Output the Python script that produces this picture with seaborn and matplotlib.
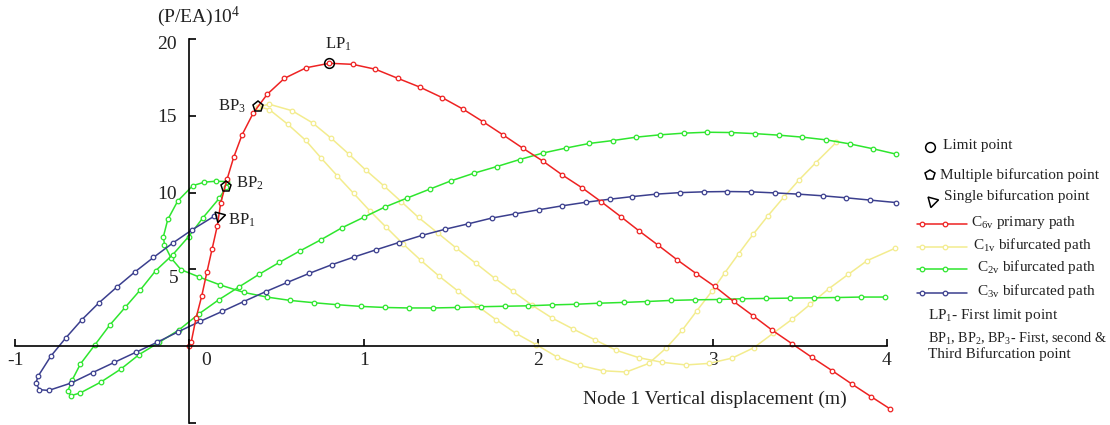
import numpy as np
import pandas as pd
import matplotlib
matplotlib.use("Agg")
import matplotlib.pyplot as plt
import seaborn as sns
from matplotlib.transforms import ScaledTranslation

# ---------------- data ----------------
red_x = [0.0, 0.01, 0.038, 0.071, 0.10, 0.13, 0.16, 0.18, 0.216, 0.254, 0.302, 0.367,
         0.446, 0.545, 0.67, 0.803, 0.937, 1.067, 1.195, 1.323, 1.45, 1.568, 1.683,
         1.798, 1.912, 2.027, 2.138, 2.253, 2.362, 2.473, 2.578, 2.687, 2.796, 2.907,
         3.012, 3.12, 3.232, 3.343, 3.458, 3.57, 3.685, 3.798, 3.911, 4.016]
red_y = [0.0, 0.25, 1.83, 3.28, 4.8, 6.32, 7.84, 9.35, 10.87, 12.3, 13.76, 15.2,
         16.4, 17.44, 18.13, 18.42, 18.35, 18.03, 17.44, 16.86, 16.18, 15.44, 14.62,
         13.76, 12.89, 12.05, 11.15, 10.3, 9.4, 8.44, 7.51, 6.58, 5.63, 4.72,
         3.89, 2.92, 1.98, 1.03, 0.14, -0.73, -1.59, -2.46, -3.3, -4.07]

yel_a_x = [0.396, 0.459, 0.589, 0.706, 0.813, 0.914, 1.01, 1.115, 1.214, 1.314, 1.425,
           1.53, 1.641, 1.75, 1.855, 1.966, 2.08, 2.2, 2.328, 2.448, 2.578, 2.712,
           2.846, 2.98, 3.113, 3.236, 3.347, 3.458, 3.561, 3.666, 3.777, 3.886, 4.045]
yel_a_y = [15.6, 15.75, 15.33, 14.54, 13.54, 12.51, 11.48, 10.44, 9.42, 8.38, 7.36,
           6.39, 5.41, 4.43, 3.57, 2.66, 1.83, 1.12, 0.4, -0.27, -0.75, -1.05,
           -1.22, -1.12, -0.77, -0.1, 0.84, 1.77, 2.74, 3.74, 4.67, 5.57, 6.37]

yel_b_x = [0.396, 0.459, 0.564, 0.666, 0.756, 0.848, 0.941, 1.033, 1.128, 1.224, 1.328,
           1.434, 1.539, 1.65, 1.759, 1.872, 1.989, 2.105, 2.238, 2.371, 2.505, 2.634,
           2.734, 2.825, 2.91, 2.996, 3.07, 3.15, 3.232, 3.318, 3.408, 3.496, 3.592, 3.71]
yel_b_y = [15.6, 15.4, 14.45, 13.41, 12.24, 11.09, 9.96, 8.83, 7.75, 6.67, 5.58,
           4.54, 3.6, 2.63, 1.72, 0.84, 0.1, -0.68, -1.25, -1.6, -1.68, -1.12,
           -0.12, 1.03, 2.31, 3.58, 4.78, 6.03, 7.28, 8.5, 9.7, 10.83, 11.95, 13.28]

grn_a_x = [0.215, 0.15, 0.086, 0.019, -0.067, -0.124, -0.149, -0.143, -0.105, -0.048,
           0.057, 0.178, 0.313, 0.444, 0.578, 0.714, 0.849, 0.984, 1.123, 1.258, 1.396,
           1.534, 1.67, 1.807, 1.943, 2.08, 2.215, 2.35, 2.49, 2.626, 2.761, 2.897,
           3.035, 3.171, 3.308, 3.442, 3.58, 3.716, 3.851, 3.987]
grn_a_y = [10.72, 10.74, 10.68, 10.45, 9.45, 8.25, 7.14, 6.6, 5.74, 4.98,
           4.5, 3.98, 3.5, 3.2, 2.98, 2.83, 2.7, 2.59, 2.52, 2.49, 2.49,
           2.52, 2.57, 2.6, 2.63, 2.69, 2.73, 2.8, 2.85, 2.91, 2.98, 3.02,
           3.04, 3.09, 3.11, 3.13, 3.15, 3.17, 3.2, 3.2]

grn_b_x = [0.21, 0.172, 0.076, -0.004, -0.096, -0.193, -0.281, -0.369, -0.457, -0.541,
           -0.625, -0.672, -0.698, -0.679, -0.625, -0.507, -0.392, -0.289, -0.172,
           -0.059, 0.053, 0.168, 0.283, 0.398, 0.516, 0.635, 0.754, 0.873, 0.999,
           1.119, 1.247, 1.377, 1.501, 1.631, 1.761, 1.893, 2.025, 2.159, 2.293,
           2.429, 2.562, 2.697, 2.834, 2.968, 3.108, 3.242, 3.379, 3.515, 3.653,
           3.787, 3.921, 4.054]
grn_b_y = [10.35, 9.64, 8.34, 7.14, 5.95, 4.92, 3.67, 2.52, 1.37, 0.1,
           -1.16, -2.2, -2.94, -3.22, -3.04, -2.33, -1.48, -0.55, 0.26,
           1.07, 2.09, 3.02, 3.85, 4.67, 5.46, 6.21, 6.93, 7.7, 8.39,
           9.05, 9.64, 10.22, 10.77, 11.26, 11.69, 12.15, 12.57, 12.9, 13.2,
           13.39, 13.61, 13.76, 13.87, 13.93, 13.91, 13.84, 13.74, 13.61, 13.43,
           13.17, 12.85, 12.5]

blue_x = [0.143, 0.013, -0.096, -0.206, -0.312, -0.417, -0.52, -0.617, -0.708, -0.794,
          -0.868, -0.88, -0.86, -0.807, -0.679, -0.555, -0.432, -0.308, -0.186,
          -0.064, 0.06, 0.187, 0.312, 0.437, 0.561, 0.687, 0.815, 0.942, 1.071,
          1.201, 1.332, 1.468, 1.6, 1.733, 1.869, 2.002, 2.138, 2.272, 2.41, 2.54,
          2.677, 2.815, 2.949, 3.085, 3.22, 3.358, 3.492, 3.633, 3.767, 3.905, 4.054]
blue_y = [8.47, 7.56, 6.71, 5.78, 4.84, 3.84, 2.81, 1.72, 0.55, -0.64,
          -1.96, -2.4, -2.83, -2.88, -2.4, -1.72, -1.06, -0.4, 0.25,
          0.94, 1.61, 2.26, 2.91, 3.55, 4.15, 4.74, 5.3, 5.8, 6.28,
          6.75, 7.21, 7.62, 7.97, 8.34, 8.62, 8.88, 9.14, 9.37, 9.57, 9.74,
          9.9, 10.0, 10.05, 10.07, 10.05, 9.98, 9.9, 9.79, 9.66, 9.51, 9.35]

special_names = ["LP$_\\mathrm{1}$", "BP$_\\mathrm{3}$", "BP$_\\mathrm{2}$", "BP$_\\mathrm{1}$"]
special_x = [0.803, 0.396, 0.21, 0.17]
special_y = [18.42, 15.6, 10.35, 8.5]

x_ticks = [-1, 0, 1, 2, 3, 4]
x_tick_labels = ["-1", "0", "1", "2", "3", "4"]
y_ticks = [-5, 5, 10, 15, 20]
y_tick_labels = ["", "5", "10", "15", "20"]

# ---------------- style ----------------
sns.set_theme(style="white")
plt.rcParams["font.family"] = ["Liberation Serif", "DejaVu Serif"]
plt.rcParams["mathtext.fontset"] = "custom"
plt.rcParams["mathtext.rm"] = "Liberation Serif"
plt.rcParams["mathtext.it"] = "Liberation Serif:italic"
plt.rcParams["axes.unicode_minus"] = False

RED = "#ee2222"
YEL = "#f3ec8e"
GRN = "#2ee62e"
BLU = "#3b3f8e"
TXT = "#222222"

W, H = 1110, 425
fig = plt.figure(figsize=(W / 100, H / 100), dpi=100)
fig.patch.set_facecolor("white")
ax = fig.add_axes([15 / W, 2 / H, 872 / W, 384 / H])
ax.set_facecolor("none")

curves = [
    (yel_a_x, yel_a_y, YEL),
    (yel_b_x, yel_b_y, YEL),
    (grn_a_x, grn_a_y, GRN),
    (grn_b_x, grn_b_y, GRN),
    (blue_x, blue_y, BLU),
    (red_x, red_y, RED),
]
for cx, cy, col in curves:
    df = pd.DataFrame({"x": cx, "y": cy})
    sns.lineplot(data=df, x="x", y="y", sort=False, estimator=None, ax=ax,
                 color=col, lw=1.1, marker="o", markersize=3.3,
                 markerfacecolor="white", markeredgecolor=col,
                 markeredgewidth=0.9, clip_on=False, legend=False)

ax.set_xlim(-1, 4)
ax.set_ylim(-5, 20)
ax.set_xlabel("")
ax.set_ylabel("")

for s in ["top", "right"]:
    ax.spines[s].set_visible(False)
ax.spines["left"].set_position(("data", 0))
ax.spines["bottom"].set_position(("data", 0))
for s in ["left", "bottom"]:
    ax.spines[s].set_color("black")
    ax.spines[s].set_linewidth(1.2)

ax.set_xticks(x_ticks)
ax.set_xticklabels(x_tick_labels)
ax.set_yticks(y_ticks)
ax.set_yticklabels(y_tick_labels)
ax.tick_params(axis="both", direction="in", length=5, width=1.2,
               color="black", labelcolor=TXT, labelsize=14, bottom=True, left=True)
ax.tick_params(axis="x", pad=4)
ax.tick_params(axis="y", pad=9)
for lab in ax.get_xticklabels():
    if lab.get_text() == "0":
        lab.set_transform(lab.get_transform() + ScaledTranslation(0.17, 0, fig.dpi_scale_trans))
for lab in ax.get_yticklabels():
    if lab.get_text() == "5":
        lab.set_transform(lab.get_transform() + ScaledTranslation(0.02, -0.07, fig.dpi_scale_trans))
    if lab.get_text() == "20":
        lab.set_transform(lab.get_transform() + ScaledTranslation(0.0, -0.04, fig.dpi_scale_trans))

# special points
ax.plot(special_x[0], special_y[0], marker="o", ms=7, mfc="none", mec="black", mew=1.1, zorder=5)
ax.plot(special_x[1], special_y[1], marker="p", ms=8, mfc="none", mec="black", mew=1.1, zorder=5)
ax.plot(special_x[2], special_y[2], marker="p", ms=8, mfc="none", mec="black", mew=1.1, zorder=5)
ax.plot(special_x[3], special_y[3], marker=(3, 0, -75), ms=9, mfc="none", mec="black", mew=1.1, zorder=5)

offs = [((9, 19), "center"), ((-13, 0), "right"), ((10, 4), "left"), ((9, -5), "left")]
for name, sx, sy, (off, ha) in zip(special_names, special_x, special_y, offs):
    ax.annotate(name, (sx, sy), xytext=off, textcoords="offset pixels",
                ha=ha, va="center", fontsize=12, color=TXT)

# axis titles
fig.text(157 / W, 1 - 17 / H, "(P/EA)10$^\\mathrm{4}$", ha="left", va="center",
         fontsize=14, color=TXT)
fig.text(583 / W, 1 - 399 / H, "Node 1 Vertical displacement (m)", ha="left",
         va="center", fontsize=14, color=TXT)

# ---------------- legend (drawn in pixel coordinates) ----------------
lax = fig.add_axes([0, 0, 1, 1])
lax.set_xlim(0, W)
lax.set_ylim(H, 0)
lax.axis("off")
lax.patch.set_alpha(0)

LFS = 11
lax.plot(930, 146.5, marker="o", ms=7, mfc="none", mec="black", mew=1.1)
lax.text(943, 146, "Limit point", va="center", ha="left", fontsize=LFS, color=TXT)
lax.plot(929.5, 175, marker="p", ms=7.5, mfc="none", mec="black", mew=1.1)
lax.text(940.5, 175, "Multiple bifurcation point", va="center", ha="left", fontsize=LFS, color=TXT)
lax.plot(932, 201, marker=(3, 0, -75), ms=9, mfc="none", mec="black", mew=1.1)
lax.text(944, 196.5, "Single bifurcation point", va="center", ha="left", fontsize=LFS, color=TXT)

leg_lines = [
    (224.3, RED, "C$_\\mathrm{6v}$ primary path", 971),
    (246.7, YEL, "C$_\\mathrm{1v}$ bifurcated path", 973),
    (269.3, GRN, "C$_\\mathrm{2v}$ bifurcated path", 977),
    (293.3, BLU, "C$_\\mathrm{3v}$ bifurcated path", 977),
]
for yy, col, lab, tx in leg_lines:
    lax.plot([917, 967], [yy, yy], color=col, lw=1.1)
    lax.plot([922, 945], [yy, yy], ls="none", marker="o", ms=3.3, mfc="white",
             mec=col, mew=0.9)
    lax.text(tx, yy - 2, lab, va="center", ha="left", fontsize=LFS, color=TXT)

lax.text(927.5, 316, "LP$_\\mathrm{1}$- First limit point", va="center", ha="left",
         fontsize=LFS, color=TXT)
lax.text(927.5, 339, "BP$_\\mathrm{1}$, BP$_\\mathrm{2}$, BP$_\\mathrm{3}$- First, second &",
         va="center", ha="left", fontsize=10.2, color=TXT)
lax.text(927.5, 354, "Third Bifurcation point", va="center", ha="left",
         fontsize=LFS, color=TXT)

fig.savefig("out.png", dpi=100, facecolor="white")
